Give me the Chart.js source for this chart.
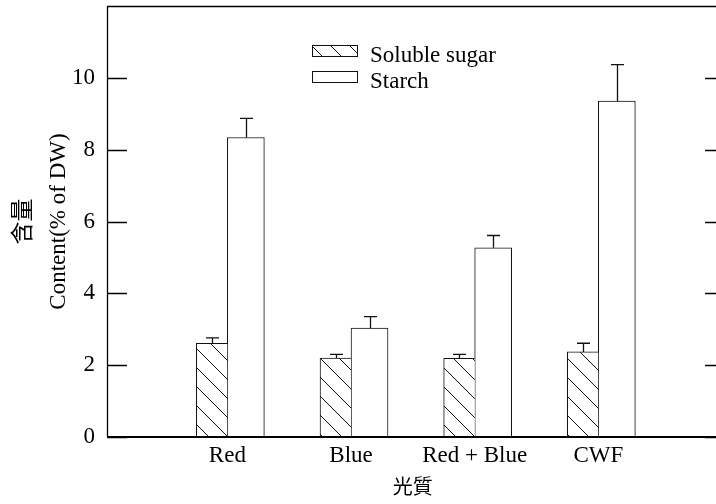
<!DOCTYPE html>
<html>
<head>
<meta charset="utf-8">
<script src="https://cdn.jsdelivr.net/npm/chart.js@4.4.1/dist/chart.umd.min.js"></script>
<style>
  body { margin: 0; background: #fff; }
  #wrap { width: 716px; height: 504px; overflow: hidden; }
</style>
</head>
<body>
<div id="wrap"><canvas id="myChart" width="726" height="504"></canvas></div>
<script>
// values
var categories = ['Red', 'Blue', 'Red + Blue', 'CWF'];
var sugar = [2.61, 2.2, 2.19, 2.37];
var sugarErr = [0.15, 0.1, 0.11, 0.24];
var starch = [8.34, 3.03, 5.27, 9.35];
var starchErr = [0.53, 0.32, 0.34, 1.02];
var yTicks = [0, 2, 4, 6, 8, 10, 12];
var seriesNames = ['Soluble sugar', 'Starch'];

var serif = "'Liberation Serif', 'Noto Sans CJK TC', serif";

function hatch() {
  var c = document.createElement('canvas');
  c.width = 19; c.height = 19;
  var g = c.getContext('2d');
  g.fillStyle = '#fff';
  g.fillRect(0, 0, 19, 19);
  g.strokeStyle = '#111';
  g.lineWidth = 1;
  g.beginPath(); g.moveTo(-2, -2); g.lineTo(21, 21); g.stroke();
  return g.createPattern(c, 'repeat');
}
var hatchFill = hatch();

// empty slot on each side, like the original axis
function pad(a) { return [null].concat(a, [null]); }

// the original's category axis sits a few px left of the frame
var shiftX = {
  id: 'shiftX',
  afterLayout: function(chart) {
    var s = chart.scales.x;
    s.left = chart.chartArea.left - 3.3;
    s.right = chart.chartArea.right - 3;
    s.width = s.right - s.left;
    s.configure();
  }
};

var frame = {
  id: 'frame',
  afterDraw: function(chart) {
    var ctx = chart.ctx, a = chart.chartArea, y = chart.scales.y;
    ctx.save();
    ctx.strokeStyle = '#000';
    ctx.lineWidth = 1.3;
    ctx.beginPath();
    ctx.moveTo(a.left + 0.5, a.bottom);
    ctx.lineTo(a.left + 0.5, a.top + 0.5);
    ctx.lineTo(a.right - 0.5, a.top + 0.5);
    ctx.lineTo(a.right - 0.5, a.bottom);
    yTicks.forEach(function(v) {
      var py = Math.round(y.getPixelForValue(v)) + 0.5;
      ctx.moveTo(a.left, py); ctx.lineTo(a.left + 20, py);
      ctx.moveTo(a.right - 20, py); ctx.lineTo(a.right, py);
    });
    ctx.stroke();
    ctx.lineWidth = 2;
    ctx.beginPath();
    ctx.moveTo(a.left, a.bottom); ctx.lineTo(a.right, a.bottom);
    ctx.stroke();
    ctx.restore();
  }
};

var errorBars = {
  id: 'errorBars',
  afterDatasetsDraw: function(chart) {
    var ctx = chart.ctx, y = chart.scales.y;
    var errs = [pad(sugarErr), pad(starchErr)];
    ctx.save();
    ctx.strokeStyle = '#111';
    ctx.lineWidth = 1.3;
    chart.data.datasets.forEach(function(ds, di) {
      chart.getDatasetMeta(di).data.forEach(function(bar, i) {
        if (ds.data[i] == null) return;
        var top = y.getPixelForValue(ds.data[i] + errs[di][i]);
        var x = Math.round(bar.x) + 0.5;
        ctx.beginPath();
        ctx.moveTo(x, bar.y); ctx.lineTo(x, top);
        ctx.moveTo(x - 6.5, top); ctx.lineTo(x + 6.5, top);
        ctx.stroke();
      });
    });
    ctx.restore();
  }
};

var legendBox = {
  id: 'legendBox',
  afterDraw: function(chart) {
    var ctx = chart.ctx;
    ctx.save();
    chart.data.datasets.forEach(function(ds, i) {
      var by = 45 + i * 26;
      ctx.fillStyle = ds.backgroundColor;
      ctx.fillRect(312, by, 46, 11);
      ctx.strokeStyle = '#111';
      ctx.lineWidth = 1;
      ctx.strokeRect(312.5, by + 0.5, 45, 11);
      ctx.fillStyle = '#000';
      ctx.font = '23px ' + serif;
      ctx.textBaseline = 'alphabetic';
      ctx.fillText(ds.label, 370, by + 17);
    });
    ctx.restore();
  }
};

var ctx = document.getElementById('myChart');
var myChart = new Chart(ctx, {
  type: 'bar',
  data: {
    labels: [''].concat(categories, ['']),
    datasets: [{
      label: seriesNames[0],
      data: pad(sugar),
      backgroundColor: hatchFill,
      borderColor: '#111',
      borderWidth: { top: 1, left: 1, right: 0, bottom: 0 },
      barThickness: 31
    }, {
      label: seriesNames[1],
      data: pad(starch),
      backgroundColor: '#fff',
      borderColor: '#111',
      borderWidth: { top: 1, left: 1, right: 1, bottom: 0 },
      barThickness: 37
    }]
  },
  options: {
    responsive: false,
    animation: false,
    devicePixelRatio: 1,
    layout: { padding: { top: 6, right: 1, left: 0, bottom: 0 } },
    plugins: { legend: { display: false }, tooltip: { enabled: false } },
    scales: {
      x: {
        type: 'category',
        offset: false,
        grid: { display: false, drawTicks: false },
        border: { display: false },
        ticks: {
          autoSkip: false, maxRotation: 0, padding: 5, color: '#000',
          font: { family: serif, size: 23 }
        },
        title: {
          display: true, text: '光質', color: '#000',
          font: { family: serif, size: 20, lineHeight: 1.2 },
          padding: { top: 0, bottom: 3.5 }
        },
        afterFit: function(s) { s.height = 67; s.paddingLeft = 0; s.paddingRight = 0; }
      },
      y: {
        min: 0, max: 12,
        grid: { display: false, drawTicks: false },
        border: { display: false },
        afterBuildTicks: function(s) { s.ticks = yTicks.map(function(v) { return { value: v }; }); },
        ticks: {
          padding: 12, color: '#000',
          font: { family: serif, size: 23 },
          callback: function(v) { return v === 12 ? '' : v; }
        },
        title: {
          display: true, text: ['含量', 'Content(% of DW)'], color: '#000',
          font: { family: serif, size: 23, lineHeight: 1.5 },
          padding: { top: 7, bottom: 0 }
        },
        afterFit: function(s) { s.width = 107; s.paddingTop = 0; s.paddingBottom = 0; }
      }
    }
  },
  plugins: [shiftX, frame, errorBars, legendBox]
});
</script>
</body>
</html>
